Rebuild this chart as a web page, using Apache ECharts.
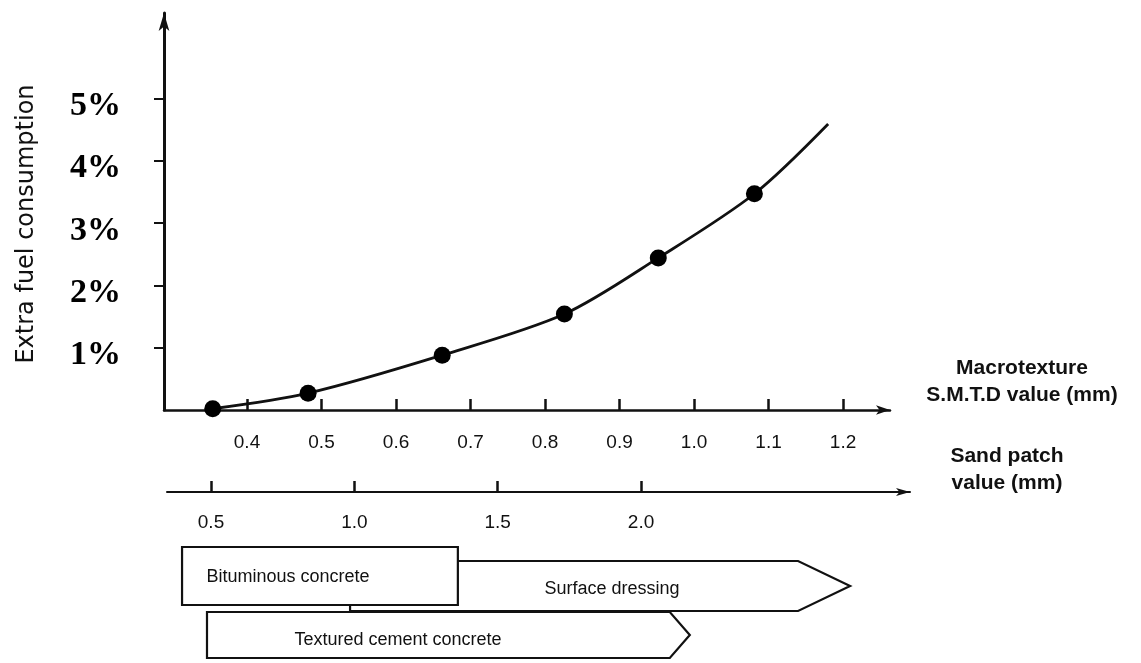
<!DOCTYPE html>
<html>
<head>
<meta charset="utf-8">
<script src="https://cdn.jsdelivr.net/npm/echarts@6/dist/echarts.min.js"></script>
<style>
  html, body { margin: 0; padding: 0; background: #fff; }
  #chart { width: 1141px; height: 663px; }
</style>
</head>
<body>
<div id="chart"></div>
<script>
// ---- data ----
const smtdTicks = [0.4, 0.5, 0.6, 0.7, 0.8, 0.9, 1.0, 1.1, 1.2];
const fuelTicks = [1, 2, 3, 4, 5];
const sandTicks = [0.5, 1.0, 1.5, 2.0];
const pointSMTD = [0.354, 0.482, 0.662, 0.826, 0.952, 1.081];
const pointFuel = [0.02, 0.27, 0.88, 1.54, 2.44, 3.47];
const curveSMTD = pointSMTD.concat([1.180]);
const curveFuel = pointFuel.concat([4.59]);
const surfaceNames = ['Bituminous concrete', 'Surface dressing', 'Textured cement concrete'];
const sandFrom = [0.399, 0.985, 0.486];
const sandTo = [1.361, 2.729, 2.17];

// ---- style / layout (pixels relative to the sand-patch axis line) ----
const bandStyle = [
  { top: 55, bottom: 113, tip: 0,  tx: 106, ty: 85 },
  { top: 69, bottom: 119, tip: 52, tx: 262, ty: 97 },
  { top: 120, bottom: 166, tip: 20, tx: 191, ty: 148 }
];
const drawOrder = [2, 1, 0];

const INK = '#111';
const sans = 'Liberation Sans, Arial, sans-serif';

const chart = echarts.init(document.getElementById('chart'), null, { renderer: 'canvas' });

const curveData = curveSMTD.map((x, i) => [x, curveFuel[i]]);
const pointData = pointSMTD.map((x, i) => [x, pointFuel[i]]);
const rangeData = drawOrder.map(i => [sandFrom[i], sandTo[i], i]);

chart.setOption({
  backgroundColor: '#fff',
  animation: false,
  grid: [
    { left: 164, right: 251, top: 13, bottom: 253 },
    { left: 167, right: 231, top: 472, height: 20 }
  ],
  xAxis: [
    {
      gridIndex: 0, type: 'value', min: 0.2886, max: 1.263,
      axisLine: { onZero: false, lineStyle: { color: INK, width: 2.5 }, symbol: ['none', 'arrow'], symbolSize: [7, 14] },
      axisTick: { show: true, inside: true, length: 11, lineStyle: { color: INK, width: 2.5 }, customValues: smtdTicks },
      axisLabel: { show: true, customValues: smtdTicks, formatter: v => v.toFixed(1), margin: 23,
        color: INK, fontFamily: sans, fontSize: 19 },
      splitLine: { show: false }
    },
    {
      gridIndex: 1, type: 'value', min: 0.3465, max: 2.938,
      axisLine: { onZero: false, lineStyle: { color: INK, width: 2 }, symbol: ['none', 'arrow'], symbolSize: [6, 14] },
      axisTick: { show: true, inside: true, length: 11, lineStyle: { color: INK, width: 2.5 }, customValues: sandTicks },
      axisLabel: { show: true, customValues: sandTicks, formatter: v => v.toFixed(1), margin: 21,
        color: INK, fontFamily: sans, fontSize: 19 },
      splitLine: { show: false }
    }
  ],
  yAxis: [
    {
      gridIndex: 0, type: 'value', min: 0, max: 6.37,
      axisLine: { show: true, onZero: false, lineStyle: { color: INK, width: 3 }, symbol: ['none', 'arrow'], symbolSize: [8, 18] },
      axisTick: { show: true, inside: false, length: 10, lineStyle: { color: INK, width: 2 }, customValues: fuelTicks },
      axisLabel: { show: true, customValues: fuelTicks, formatter: v => v + '%', margin: 43,
        color: '#000', fontFamily: 'Liberation Serif, Times New Roman, serif', fontWeight: 'bold', fontSize: 34,
        verticalAlign: 'top', lineHeight: 16 },
      splitLine: { show: false }
    },
    { gridIndex: 1, type: 'value', show: false, min: 0, max: 1 }
  ],
  graphic: [
    { type: 'text', x: 27, y: 224, rotation: Math.PI / 2,
      style: { text: 'Extra fuel consumption', fill: INK, font: '24px DejaVu Sans, sans-serif',
        textAlign: 'center', textVerticalAlign: 'middle' } },
    { type: 'text', x: 1022, y: 355,
      style: { text: 'Macrotexture\nS.M.T.D value (mm)', fill: INK, font: 'bold 21px Liberation Sans, Arial, sans-serif',
        textAlign: 'center', lineHeight: 27 } },
    { type: 'text', x: 1007, y: 443,
      style: { text: 'Sand patch\nvalue (mm)', fill: INK, font: 'bold 21px Liberation Sans, Arial, sans-serif',
        textAlign: 'center', lineHeight: 27 } }
  ],
  series: [
    {
      type: 'line', xAxisIndex: 0, yAxisIndex: 0, data: curveData, smooth: 0.3,
      showSymbol: false, symbol: 'none', lineStyle: { color: INK, width: 2.8 }, z: 3
    },
    {
      type: 'scatter', xAxisIndex: 0, yAxisIndex: 0, data: pointData,
      symbol: 'circle', symbolSize: 17, itemStyle: { color: '#000', opacity: 1 }, z: 4
    },
    {
      type: 'custom', xAxisIndex: 1, yAxisIndex: 1, data: rangeData, clip: false, z: 2,
      renderItem: function (params, api) {
        const idx = api.value(2);
        const b = bandStyle[idx];
        const x0 = api.coord([api.value(0), 0])[0];
        const x1 = api.coord([api.value(1), 0])[0];
        const axisY = params.coordSys.y + params.coordSys.height;
        const top = axisY + b.top, bot = axisY + b.bottom, mid = (top + bot) / 2;
        const pts = b.tip > 0
          ? [[x0, top], [x1 - b.tip, top], [x1, mid], [x1 - b.tip, bot], [x0, bot]]
          : [[x0, top], [x1, top], [x1, bot], [x0, bot]];
        return {
          type: 'group',
          children: [
            { type: 'polygon', shape: { points: pts },
              style: { fill: '#fff', stroke: INK, lineWidth: 2.2, lineJoin: 'miter' } },
            { type: 'text', x: x0 + b.tx, y: axisY + b.ty,
              style: { text: surfaceNames[idx], fill: INK, font: '18px Liberation Sans, Arial, sans-serif',
                textAlign: 'center', textVerticalAlign: 'middle' } }
          ]
        };
      }
    }
  ]
});
</script>
</body>
</html>
